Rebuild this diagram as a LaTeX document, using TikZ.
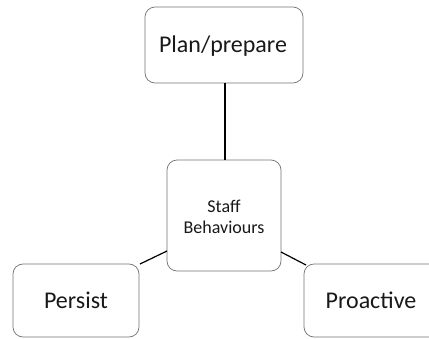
\documentclass[tikz,border=0pt]{standalone}
\usepackage{fontspec}
\setmainfont{Carlito}
\begin{document}
\begin{tikzpicture}[x=1pt,y=-1pt,
  box/.style={draw=black!55, line width=0.7pt, rounded corners=10pt, fill=white},
  big/.style={font=\fontsize{24}{28}\selectfont, text=black!90},
  conn/.style={draw=black, line width=1.2pt}]
\useasboundingbox (0,0) rectangle (429,338);
\clip (0,0) rectangle (429,338);
\draw[box] (145,7) rectangle (303,83);
\node[big] (plan) at (223,46) {Plan/prepare};
\coordinate (planb) at (225,83);
\draw[box] (167,160) rectangle (281,271);
\node[align=center, font=\fontsize{18}{21}\selectfont, text=black!90] (staff) at (224,217) {Staff\\Behaviours};
\coordinate (stafft) at (225,160);
\coordinate (staffl) at (167,251);
\coordinate (staffr) at (281,252);
\draw[box] (13,264) rectangle (139,337);
\node[big] (persist) at (76,300) {Persist};
\coordinate (persisttr) at (140,264);
\draw[box] (304,264) rectangle (445,337);
\node[big] (proactive) at (371,300) {Proactive};
\coordinate (proactivetl) at (306,265);
\draw[conn] (planb) -- (stafft);
\draw[conn] (persisttr) -- (staffl);
\draw[conn] (staffr) -- (proactivetl);
\end{tikzpicture}
\end{document}
